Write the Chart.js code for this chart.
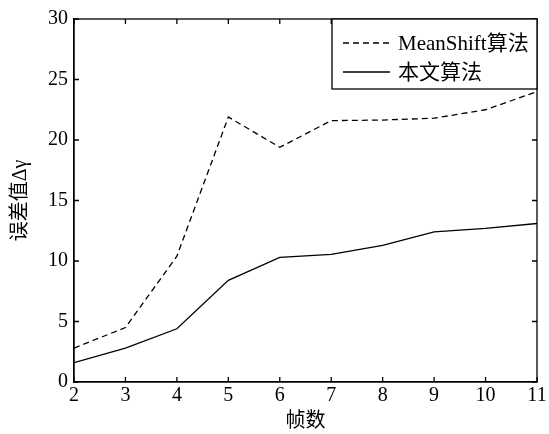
<!DOCTYPE html>
<html>
<head>
<meta charset="utf-8">
<script src="https://cdn.jsdelivr.net/npm/chart.js@4"></script>
<style>
  html, body { margin: 0; padding: 0; background: #fff; }
  #wrap { width: 549px; height: 434px; }
</style>
</head>
<body>
<div id="wrap"><canvas id="myChart"></canvas></div>
<script>
const frames = [2, 3, 4, 5, 6, 7, 8, 9, 10, 11];
const meanShift = [2.8, 4.5, 10.4, 21.9, 19.4, 21.6, 21.65, 21.8, 22.5, 24.0];
const ours = [1.6, 2.8, 4.4, 8.4, 10.3, 10.55, 11.3, 12.4, 12.7, 13.1];
const seriesNames = ['MeanShift算法', '本文算法'];
const xTitle = '帧数';
const yTitle = '误差值Δγ';

const serif = '"Liberation Serif", "Noto Sans CJK SC", serif';

// frame, inward ticks on every side, and the boxed legend
const boxPlugin = {
    id: 'boxPlugin',
    afterDatasetsDraw(chart) {
        const ctx = chart.ctx;
        const a = chart.chartArea;
        const xs = chart.scales.x, ys = chart.scales.y;
        const tl = 5;
        ctx.save();
        ctx.strokeStyle = '#000';
        ctx.lineWidth = 1.3;
        ctx.setLineDash([]);
        ctx.strokeRect(a.left, a.top, a.right - a.left, a.bottom - a.top);
        ctx.beginPath();
        xs.ticks.forEach(t => {
            const px = xs.getPixelForValue(t.value);
            ctx.moveTo(px, a.bottom); ctx.lineTo(px, a.bottom - tl);
            ctx.moveTo(px, a.top); ctx.lineTo(px, a.top + tl);
        });
        ys.ticks.forEach(t => {
            const py = ys.getPixelForValue(t.value);
            ctx.moveTo(a.left, py); ctx.lineTo(a.left + tl, py);
            ctx.moveTo(a.right, py); ctx.lineTo(a.right - tl, py);
        });
        ctx.stroke();

        // legend
        const bx = 332, by = a.top, bw = a.right - bx, bh = 70;
        ctx.fillStyle = '#fff';
        ctx.fillRect(bx, by, bw, bh);
        ctx.strokeRect(bx, by, bw, bh);
        ctx.font = '21px ' + serif;
        ctx.textBaseline = 'middle';
        ctx.fillStyle = '#000';
        chart.data.datasets.forEach((ds, i) => {
            const ly = by + 24 + i * 29;
            ctx.beginPath();
            ctx.lineWidth = ds.borderWidth;
            ctx.setLineDash(ds.borderDash || []);
            ctx.moveTo(343, ly); ctx.lineTo(390, ly);
            ctx.stroke();
            ctx.setLineDash([]);
            ctx.fillText(ds.label, 398, ly + 1);
        });
        ctx.restore();
    }
};

const ctx = document.getElementById('myChart').getContext('2d');
const myChart = new Chart(ctx, {
    type: 'line',
    data: {
        labels: frames,
        datasets: [
            {
                label: seriesNames[0],
                data: frames.map((f, i) => ({ x: f, y: meanShift[i] })),
                borderColor: '#000',
                borderWidth: 1.3,
                borderDash: [6, 4],
                pointRadius: 0,
                fill: false,
                tension: 0
            },
            {
                label: seriesNames[1],
                data: frames.map((f, i) => ({ x: f, y: ours[i] })),
                borderColor: '#000',
                borderWidth: 1.3,
                pointRadius: 0,
                fill: false,
                tension: 0
            }
        ]
    },
    options: {
        responsive: true,
        maintainAspectRatio: false,
        animation: false,
        layout: { padding: { left: 0, right: 12, top: 19, bottom: 0 } },
        plugins: {
            legend: { display: false },
            tooltip: { enabled: false }
        },
        scales: {
            x: {
                type: 'linear',
                min: 2,
                max: 11,
                grid: { display: false, drawTicks: false },
                border: { display: true, color: '#000', width: 1.3 },
                ticks: {
                    stepSize: 1,
                    padding: 2,
                    color: '#000',
                    font: { family: serif, size: 20 }
                },
                title: {
                    display: true,
                    text: xTitle,
                    color: '#000',
                    font: { family: serif, size: 20 },
                    padding: { top: 0, bottom: 0 }
                },
                afterFit(scale) { scale.height = 52; }
            },
            y: {
                min: 0,
                max: 30,
                grid: { display: false, drawTicks: false },
                border: { display: true, color: '#000', width: 1.3 },
                ticks: {
                    stepSize: 5,
                    padding: 6,
                    color: '#000',
                    font: { family: serif, size: 20 }
                },
                title: {
                    display: true,
                    text: yTitle,
                    color: '#000',
                    font: { family: serif, size: 20 },
                    padding: { top: 9, bottom: 0 }
                },
                afterFit(scale) { scale.width = 74; }
            }
        }
    },
    plugins: [boxPlugin]
});
</script>
</body>
</html>
